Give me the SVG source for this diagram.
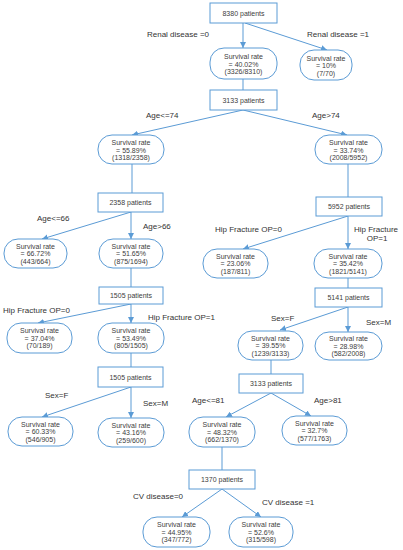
<svg xmlns="http://www.w3.org/2000/svg" width="403" height="550" viewBox="0 0 403 550">
<defs>
<marker id="ah" viewBox="0 0 10 10" refX="10" refY="5" markerWidth="6" markerHeight="6" markerUnits="userSpaceOnUse" orient="auto">
<path d="M0,0 L10,5 L0,10 z" fill="#5b9bd5"/>
</marker>
<style>
.box{fill:#fff;stroke:#5b9bd5;stroke-width:1}
.nd{fill:#fff;stroke:#5b9bd5;stroke-width:1}
.t{font-family:"Liberation Sans",Arial,sans-serif;font-size:7px;fill:#404040;text-anchor:middle}
.l{font-family:"Liberation Sans",Arial,sans-serif;font-size:8px;fill:#333}
.c{stroke:#5b9bd5;stroke-width:1;fill:none}
.a{stroke:#5b9bd5;stroke-width:1;fill:none;marker-end:url(#ah)}
</style>
</defs>
<rect width="403" height="550" fill="#fff"/>

<g id="connectors">
<line class="a" x1="243" y1="23" x2="243" y2="48"/>
<line class="a" x1="245" y1="23" x2="327" y2="50"/>
<line class="c" x1="243" y1="79" x2="243" y2="90"/>
<line class="a" x1="243" y1="110" x2="132" y2="135"/>
<line class="a" x1="243" y1="110" x2="347" y2="135"/>
<line class="c" x1="132" y1="164" x2="132" y2="193"/>
<line class="c" x1="348" y1="164" x2="348" y2="197"/>
<line class="a" x1="131" y1="212" x2="42" y2="239"/>
<line class="a" x1="131" y1="212" x2="131" y2="239"/>
<line class="c" x1="131" y1="268" x2="131" y2="287"/>
<line class="a" x1="131" y1="304" x2="38" y2="323"/>
<line class="a" x1="131" y1="304" x2="131" y2="323"/>
<line class="c" x1="131" y1="353" x2="131" y2="367"/>
<line class="a" x1="131" y1="387" x2="42" y2="417"/>
<line class="a" x1="131" y1="387" x2="131" y2="418"/>
<line class="a" x1="348" y1="216" x2="243" y2="249"/>
<line class="a" x1="348" y1="216" x2="348" y2="249"/>
<line class="c" x1="348" y1="278" x2="348" y2="288"/>
<line class="a" x1="348" y1="307" x2="280" y2="330"/>
<line class="a" x1="348" y1="307" x2="348" y2="332"/>
<line class="c" x1="271" y1="360" x2="271" y2="374"/>
<line class="a" x1="271" y1="393" x2="226" y2="417"/>
<line class="a" x1="271" y1="393" x2="311" y2="416"/>
<line class="c" x1="222" y1="447" x2="222" y2="470"/>
<line class="a" x1="222" y1="489" x2="182" y2="517"/>
<line class="a" x1="222" y1="489" x2="261" y2="517"/>
</g>

<g id="edge-labels">
<text class="l" x="209" y="37" text-anchor="end">Renal disease =0</text>
<text class="l" x="307" y="37">Renal disease =1</text>
<text class="l" x="146" y="118">Age&lt;=74</text>
<text class="l" x="312" y="118">Age&gt;74</text>
<text class="l" x="37" y="221">Age&lt;=66</text>
<text class="l" x="143" y="229">Age&gt;66</text>
<text class="l" x="3" y="313">Hip Fracture OP=0</text>
<text class="l" x="148" y="320">Hip Fracture OP=1</text>
<text class="l" x="45" y="398">Sex=F</text>
<text class="l" x="143" y="406">Sex=M</text>
<text class="l" x="215" y="232">Hip Fracture OP=0</text>
<text class="l" x="376" y="232" text-anchor="middle">Hip Fracture</text>
<text class="l" x="377" y="241" text-anchor="middle">OP=1</text>
<text class="l" x="271" y="321">Sex=F</text>
<text class="l" x="366" y="325">Sex=M</text>
<text class="l" x="192" y="403">Age&lt;=81</text>
<text class="l" x="314" y="403">Age&gt;81</text>
<text class="l" x="133" y="499">CV disease=0</text>
<text class="l" x="262" y="505">CV disease =1</text>
</g>

<g id="b0"><rect class="box" x="210" y="3" width="67" height="20"/><text class="t" x="243.5" y="15.5">8380 patients</text></g>
<g id="n1"><rect class="nd" x="210" y="48" width="67" height="31" rx="14"/><text class="t" x="243.5" y="59">Survival rate</text><text class="t" x="243.5" y="66.5">= 40.02%</text><text class="t" x="243.5" y="74">(3326/8310)</text></g>
<g id="n2"><rect class="nd" x="300" y="50" width="52" height="30" rx="14"/><text class="t" x="326" y="60.5">Survival rate</text><text class="t" x="326" y="68">= 10%</text><text class="t" x="326" y="75.5">(7/70)</text></g>
<g id="b1"><rect class="box" x="210" y="90" width="67" height="20"/><text class="t" x="243.5" y="102.5">3133 patients</text></g>

<g id="n3"><rect class="nd" x="98" y="135" width="66" height="29" rx="14"/><text class="t" x="131" y="145">Survival rate</text><text class="t" x="131" y="152.5">= 55.89%</text><text class="t" x="131" y="160">(1318/2358)</text></g>
<g id="n4"><rect class="nd" x="315" y="135" width="67" height="29" rx="14"/><text class="t" x="348.5" y="145">Survival rate</text><text class="t" x="348.5" y="152.5">= 33.74%</text><text class="t" x="348.5" y="160">(2008/5952)</text></g>
<g id="b2"><rect class="box" x="98" y="193" width="65" height="19"/><text class="t" x="130.5" y="205">2358 patients</text></g>
<g id="b3"><rect class="box" x="316" y="197" width="66" height="19"/><text class="t" x="349" y="209">5952 patients</text></g>

<g id="n5"><rect class="nd" x="4" y="239" width="63" height="29" rx="14"/><text class="t" x="35.5" y="248.5">Survival rate</text><text class="t" x="35.5" y="256">= 66.72%</text><text class="t" x="35.5" y="263.5">(443/664)</text></g>
<g id="n6"><rect class="nd" x="99" y="239" width="64" height="29" rx="14"/><text class="t" x="131" y="248.5">Survival rate</text><text class="t" x="131" y="256">= 51.65%</text><text class="t" x="131" y="263.5">(875/1694)</text></g>
<g id="b4"><rect class="box" x="99" y="287" width="64" height="17"/><text class="t" x="131" y="298">1505 patients</text></g>
<g id="n7"><rect class="nd" x="7" y="323" width="65" height="30" rx="14"/><text class="t" x="39.5" y="333">Survival rate</text><text class="t" x="39.5" y="340.5">= 37.04%</text><text class="t" x="39.5" y="348">(70/189)</text></g>
<g id="n8"><rect class="nd" x="98" y="323" width="66" height="30" rx="14"/><text class="t" x="131" y="333">Survival rate</text><text class="t" x="131" y="340.5">= 53.49%</text><text class="t" x="131" y="348">(805/1505)</text></g>
<g id="b5"><rect class="box" x="98" y="367" width="65" height="20"/><text class="t" x="130.5" y="379.5">1505 patients</text></g>
<g id="n9"><rect class="nd" x="8" y="417" width="65" height="29" rx="14"/><text class="t" x="40.5" y="426.5">Survival rate</text><text class="t" x="40.5" y="434">= 60.33%</text><text class="t" x="40.5" y="441.5">(546/905)</text></g>
<g id="n10"><rect class="nd" x="98" y="418" width="66" height="29" rx="14"/><text class="t" x="131" y="427.5">Survival rate</text><text class="t" x="131" y="435">= 43.16%</text><text class="t" x="131" y="442.5">(259/600)</text></g>

<g id="n11"><rect class="nd" x="203" y="249" width="65" height="29" rx="14"/><text class="t" x="235.5" y="258.5">Survival rate</text><text class="t" x="235.5" y="266">= 23.06%</text><text class="t" x="235.5" y="273.5">(187/811)</text></g>
<g id="n12"><rect class="nd" x="314" y="249" width="68" height="29" rx="14"/><text class="t" x="348" y="258.5">Survival rate</text><text class="t" x="348" y="266">= 35.42%</text><text class="t" x="348" y="273.5">(1821/5141)</text></g>
<g id="b6"><rect class="box" x="315" y="288" width="67" height="19"/><text class="t" x="348.5" y="300">5141 patients</text></g>
<g id="n13"><rect class="nd" x="238" y="331" width="65" height="29" rx="14"/><text class="t" x="270.5" y="340.5">Survival rate</text><text class="t" x="270.5" y="348">= 39.55%</text><text class="t" x="270.5" y="355.5">(1239/3133)</text></g>
<g id="n14"><rect class="nd" x="315" y="332" width="67" height="28" rx="14"/><text class="t" x="348.5" y="341">Survival rate</text><text class="t" x="348.5" y="348.5">= 28.98%</text><text class="t" x="348.5" y="356">(582/2008)</text></g>
<g id="b7"><rect class="box" x="239" y="374" width="64" height="19"/><text class="t" x="271" y="386">3133 patients</text></g>
<g id="n15"><rect class="nd" x="189" y="417" width="66" height="30" rx="14"/><text class="t" x="222" y="427">Survival rate</text><text class="t" x="222" y="434.5">= 48.32%</text><text class="t" x="222" y="442">(662/1370)</text></g>
<g id="n16"><rect class="nd" x="282" y="416" width="65" height="29" rx="14"/><text class="t" x="314.5" y="425.5">Survival rate</text><text class="t" x="314.5" y="433">= 32.7%</text><text class="t" x="314.5" y="440.5">(577/1763)</text></g>
<g id="b8"><rect class="box" x="189" y="470" width="66" height="19"/><text class="t" x="222" y="482">1370 patients</text></g>
<g id="n17"><rect class="nd" x="143" y="517" width="67" height="30" rx="14"/><text class="t" x="176.5" y="527">Survival rate</text><text class="t" x="176.5" y="534.5">= 44.95%</text><text class="t" x="176.5" y="542">(347/772)</text></g>
<g id="n18"><rect class="nd" x="229" y="517" width="64" height="30" rx="14"/><text class="t" x="261" y="527">Survival rate</text><text class="t" x="261" y="534.5">= 52.6%</text><text class="t" x="261" y="542">(315/598)</text></g>
</svg>
